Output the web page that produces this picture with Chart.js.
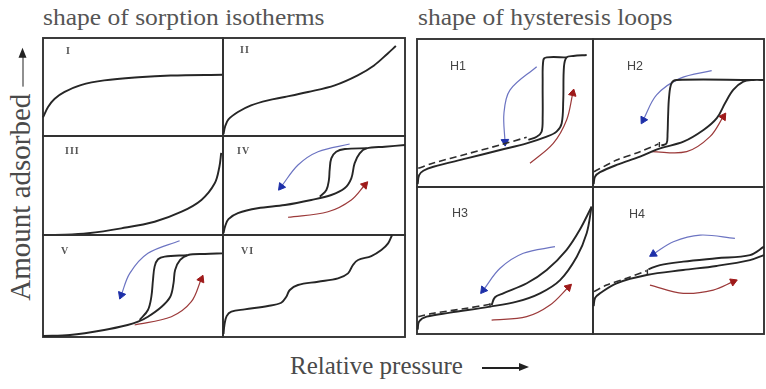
<!DOCTYPE html>
<html>
<head>
<meta charset="utf-8">
<script src="https://cdn.jsdelivr.net/npm/chart.js@4/dist/chart.umd.min.js"></script>
<style>
  html, body { margin: 0; padding: 0; background: #fff; }
  body { width: 766px; height: 389px; position: relative; overflow: hidden; }
  canvas.panel { position: absolute; }
  .txt { position: absolute; white-space: nowrap; font-family: "Liberation Serif", "Times New Roman", serif; color: #4a4a4a; line-height: 1; }
  .roman { position: absolute; font-family: "Liberation Serif", serif; font-weight: bold; font-size: 10px; color: #555; letter-spacing: 1px; line-height: 1; }
  .hlab { position: absolute; font-family: "Liberation Sans", Arial, sans-serif; font-size: 12.5px; color: #444; line-height: 1; }
  .arrowline { display: inline-block; position: relative; height: 1.6px; background: #222; vertical-align: middle; }
  .arrowline::after { content: ""; position: absolute; right: -9px; top: -4px; border-left: 10px solid #222; border-top: 4.8px solid transparent; border-bottom: 4.8px solid transparent; }
</style>
</head>
<body>

<div class="txt" id="t1" style="left:43px; top:6px; font-size:23px; transform-origin:0 0; transform:scaleX(1.11); color:#555;">shape of sorption isotherms</div>
<div class="txt" id="t2" style="left:418px; top:6px; font-size:23px; transform-origin:0 0; transform:scaleX(1.11); color:#555;">shape of hysteresis loops</div>
<div class="txt" id="ylab" style="left:20px; top:174px; font-size:29px; transform: translate(-50%,-50%) rotate(-90deg);">Amount adsorbed&nbsp;<span class="arrowline" style="width:30px"></span><span style="display:inline-block;width:9px"></span></div>
<div class="txt" id="xlab" style="left:290px; top:353px; font-size:25px;">Relative pressure&nbsp;&nbsp;&nbsp;<span class="arrowline" style="width:38px"></span></div>

<script>
// ---- Type I–VI sorption isotherms (x: relative pressure, y: amount adsorbed, both 0..1) ----
const isoI = [[0,0.19],[0.028,0.296],[0.065,0.38],[0.12,0.45],[0.21,0.52],[0.34,0.568],[0.53,0.60],[0.71,0.617],[1.0,0.625]];
const isoII = [[0.003,0.02],[0.012,0.1],[0.03,0.17],[0.082,0.245],[0.154,0.313],[0.247,0.364],[0.339,0.398],[0.467,0.449],[0.614,0.517],[0.74,0.619],[0.83,0.72],[0.904,0.84],[0.95,0.918]];
const isoIII = [[0,0],[0.12,0.002],[0.25,0.017],[0.435,0.067],[0.62,0.134],[0.77,0.235],[0.88,0.354],[0.954,0.522],[0.98,0.69],[0.99,0.83]];
const isoIV_ads = [[0.003,0.02],[0.012,0.09],[0.03,0.16],[0.082,0.22],[0.19,0.27],[0.34,0.303],[0.485,0.354],[0.595,0.404],[0.668,0.472],[0.705,0.573],[0.723,0.724],[0.751,0.825],[0.788,0.875],[0.889,0.892],[1.0,0.909]];
const isoIV_des = [[0.79,0.876],[0.67,0.868],[0.622,0.841],[0.595,0.774],[0.586,0.657],[0.582,0.556],[0.568,0.455],[0.532,0.388]];
const isoV_ads = [[0,0.01],[0.15,0.02],[0.34,0.069],[0.47,0.118],[0.528,0.15],[0.583,0.199],[0.659,0.297],[0.707,0.395],[0.725,0.526],[0.734,0.657],[0.762,0.755],[0.806,0.804],[0.9,0.814],[1.0,0.82]];
const isoV_des = [[0.8,0.802],[0.676,0.788],[0.639,0.762],[0.62,0.69],[0.611,0.559],[0.602,0.395],[0.583,0.265],[0.537,0.167]];
const isoVI = [[0.003,0.03],[0.008,0.12],[0.02,0.205],[0.046,0.248],[0.119,0.271],[0.247,0.304],[0.32,0.336],[0.348,0.395],[0.367,0.461],[0.412,0.51],[0.522,0.542],[0.632,0.575],[0.687,0.624],[0.714,0.706],[0.742,0.755],[0.815,0.794],[0.87,0.853],[0.907,0.918],[0.929,1.0]];

// ---- H1–H4 hysteresis loops ----
const h1_dash = [[0.007,0.126],[0.093,0.162],[0.282,0.223],[0.472,0.284],[0.623,0.336]];
const h1_ads = [[0.004,0.02],[0.012,0.08],[0.036,0.11],[0.093,0.137],[0.282,0.193],[0.472,0.25],[0.623,0.295],[0.737,0.34],[0.793,0.374],[0.822,0.43],[0.831,0.588],[0.835,0.813],[0.85,0.876],[0.888,0.885],[0.964,0.892]];
const h1_des = [[0.85,0.876],[0.737,0.876],[0.718,0.858],[0.714,0.7],[0.714,0.475],[0.708,0.374],[0.68,0.34],[0.633,0.318]];
const h2_dash = [[0.006,0.103],[0.138,0.182],[0.275,0.238],[0.382,0.29]];
const h2_ads = [[0.004,0.02],[0.012,0.07],[0.041,0.1],[0.138,0.149],[0.275,0.205],[0.392,0.261],[0.529,0.306],[0.646,0.385],[0.724,0.465],[0.772,0.566],[0.82,0.656],[0.879,0.712],[0.937,0.723],[1.0,0.723]];
const h2_des = [[0.937,0.723],[0.489,0.723],[0.459,0.7],[0.445,0.61],[0.439,0.475],[0.436,0.362],[0.43,0.295],[0.40,0.28]];
const h3_dash = [[0.007,0.118],[0.093,0.141],[0.282,0.175],[0.415,0.202]];
const h3_ads = [[0.004,0.03],[0.012,0.085],[0.055,0.118],[0.188,0.145],[0.415,0.186],[0.567,0.22],[0.699,0.277],[0.813,0.367],[0.908,0.526],[0.964,0.685],[0.992,0.866]];
const h3_des = [[0.992,0.866],[0.924,0.707],[0.849,0.571],[0.737,0.435],[0.624,0.345],[0.49,0.277],[0.443,0.25],[0.424,0.197]];
const h4_dash = [[0.006,0.288],[0.08,0.333],[0.197,0.379],[0.314,0.431]];
const h4_ads = [[0.004,0.19],[0.012,0.245],[0.041,0.277],[0.138,0.345],[0.314,0.401],[0.527,0.435],[0.722,0.463],[0.918,0.503],[1.0,0.537]];
const h4_des = [[1.0,0.594],[0.918,0.537],[0.722,0.515],[0.527,0.492],[0.392,0.469],[0.324,0.44]];

// closure ticks where the desorption branch meets the adsorption branch
const h2_tick = [[0.388,0.27],[0.388,0.304]];
const h3_tick = [[0.415,0.182],[0.415,0.209]];
const h4_tick = [[0.318,0.406],[0.318,0.44]];

// ---- direction arrows: blue = desorption, red = adsorption ----
const ivBlue = [[0.696,0.919],[0.522,0.841],[0.412,0.707],[0.32,0.488]];
const ivRed = [[0.357,0.179],[0.577,0.235],[0.705,0.354],[0.779,0.505]];
const vBlue = [[0.759,0.944],[0.583,0.82],[0.482,0.624],[0.435,0.412]];
const vRed = [[0.509,0.118],[0.713,0.199],[0.824,0.346],[0.879,0.566]];
const h1Blue = [[0.68,0.813],[0.528,0.655],[0.494,0.498],[0.5,0.306]];
const h1Red = [[0.642,0.16],[0.774,0.295],[0.85,0.453],[0.885,0.633]];
const h2Blue = [[0.694,0.786],[0.509,0.734],[0.372,0.622],[0.294,0.453]];
const h2Red = [[0.343,0.239],[0.548,0.239],[0.684,0.34],[0.762,0.475]];
const h3Blue = [[0.784,0.594],[0.604,0.549],[0.472,0.447],[0.377,0.299]];
const h3Red = [[0.424,0.095],[0.623,0.118],[0.756,0.197],[0.86,0.318]];
const h4Blue = [[0.83,0.651],[0.626,0.673],[0.47,0.628],[0.353,0.544]];
const h4Red = [[0.333,0.333],[0.528,0.277],[0.703,0.299],[0.82,0.356]];

// ---- panel labels ----
const isoLabels = ['I', 'II', 'III', 'IV', 'V', 'VI'];
const loopLabels = ['H1', 'H2', 'H3', 'H4'];

const pts = arr => arr.map(([x, y]) => ({ x, y }));

function curve(arr) {
  return { data: pts(arr), borderColor: '#262626', borderWidth: 1.9, tension: 0.35, pointRadius: 0, clip: false, fill: false };
}
function dashed(arr) {
  return { data: pts(arr), borderColor: '#2e2e2e', borderWidth: 1.6, borderDash: [7, 4], tension: 0.3, pointRadius: 0, clip: false, fill: false };
}
function tick(arr) {
  return { data: pts(arr), borderColor: '#2e2e2e', borderWidth: 1.4, tension: 0, pointRadius: 0, clip: false, fill: false };
}
function arrow(arr, line, head) {
  const last = arr.length - 1;
  return {
    data: pts(arr), borderColor: line, borderWidth: 1.2, tension: 0.35, clip: false, fill: false,
    pointStyle: 'triangle',
    pointRadius: c => (c.dataIndex === last ? 4.4 : 0),
    pointBackgroundColor: head, pointBorderColor: head, pointBorderWidth: 1,
    pointRotation: c => {
      if (c.dataIndex !== last) return 0;
      const xs = c.chart.scales.x, ys = c.chart.scales.y;
      const a = arr[last - 1], b = arr[last];
      const dx = xs.getPixelForValue(b[0]) - xs.getPixelForValue(a[0]);
      const dy = ys.getPixelForValue(b[1]) - ys.getPixelForValue(a[1]);
      return Math.atan2(dx, -dy) * 180 / Math.PI;
    }
  };
}
const blueArrow = a => arrow(a, '#6c74c2', '#1d2fa8');
const redArrow = a => arrow(a, '#9c3a3a', '#9e1a1a');

// panel frame
const framePlugin = {
  id: 'frame',
  beforeDatasetsDraw(chart) {
    const { ctx, chartArea: a } = chart;
    ctx.save();
    ctx.strokeStyle = '#333';
    ctx.lineWidth = 1.9;
    ctx.strokeRect(a.left, a.top, a.right - a.left, a.bottom - a.top);
    ctx.restore();
  }
};

const PAD = 3;
function panel(rect, datasets) {
  const [x0, y0, x1, y1] = rect;
  const c = document.createElement('canvas');
  c.className = 'panel';
  const w = x1 - x0 + 2 * PAD, h = y1 - y0 + 2 * PAD;
  c.width = w; c.height = h;
  c.style.left = (x0 - PAD) + 'px'; c.style.top = (y0 - PAD) + 'px';
  c.style.width = w + 'px'; c.style.height = h + 'px';
  document.body.appendChild(c);
  new Chart(c, {
    type: 'line',
    data: { datasets },
    options: {
      responsive: false, animation: false, devicePixelRatio: 1,
      layout: { padding: PAD, autoPadding: false },
      events: [],
      plugins: { legend: { display: false }, tooltip: { enabled: false } },
      scales: {
        x: { type: 'linear', min: 0, max: 1, display: false },
        y: { type: 'linear', min: 0, max: 1, display: false }
      }
    },
    plugins: [framePlugin]
  });
}

// left block: 2 columns x 3 rows
const LX = [43, 223, 405], LY = [38, 136, 235, 337];
// right block: 2 columns x 2 rows
const RX = [417, 593, 764], RY = [39, 187, 334];

panel([LX[0], LY[0], LX[1], LY[1]], [curve(isoI)]);
panel([LX[1], LY[0], LX[2], LY[1]], [curve(isoII)]);
panel([LX[0], LY[1], LX[1], LY[2]], [curve(isoIII)]);
panel([LX[1], LY[1], LX[2], LY[2]], [curve(isoIV_ads), curve(isoIV_des), blueArrow(ivBlue), redArrow(ivRed)]);
panel([LX[0], LY[2], LX[1], LY[3]], [curve(isoV_ads), curve(isoV_des), blueArrow(vBlue), redArrow(vRed)]);
panel([LX[1], LY[2], LX[2], LY[3]], [curve(isoVI)]);

panel([RX[0], RY[0], RX[1], RY[1]], [dashed(h1_dash), curve(h1_ads), curve(h1_des), blueArrow(h1Blue), redArrow(h1Red)]);
panel([RX[1], RY[0], RX[2], RY[1]], [dashed(h2_dash), curve(h2_ads), curve(h2_des), tick(h2_tick), blueArrow(h2Blue), redArrow(h2Red)]);
panel([RX[0], RY[1], RX[1], RY[2]], [dashed(h3_dash), curve(h3_ads), curve(h3_des), tick(h3_tick), blueArrow(h3Blue), redArrow(h3Red)]);
panel([RX[1], RY[1], RX[2], RY[2]], [dashed(h4_dash), curve(h4_ads), curve(h4_des), tick(h4_tick), blueArrow(h4Blue), redArrow(h4Red)]);

// panel captions
const romanPos = [[66, 46], [240, 45], [65, 146], [237, 146], [61, 246], [241, 246]];
isoLabels.forEach((t, i) => {
  const d = document.createElement('div');
  d.className = 'roman'; d.textContent = t;
  d.style.left = romanPos[i][0] + 'px'; d.style.top = romanPos[i][1] + 'px';
  document.body.appendChild(d);
});
const loopPos = [[450, 60], [627, 60], [452, 207], [629, 208]];
loopLabels.forEach((t, i) => {
  const d = document.createElement('div');
  d.className = 'hlab'; d.textContent = t;
  d.style.left = loopPos[i][0] + 'px'; d.style.top = loopPos[i][1] + 'px';
  document.body.appendChild(d);
});
</script>
</body>
</html>
